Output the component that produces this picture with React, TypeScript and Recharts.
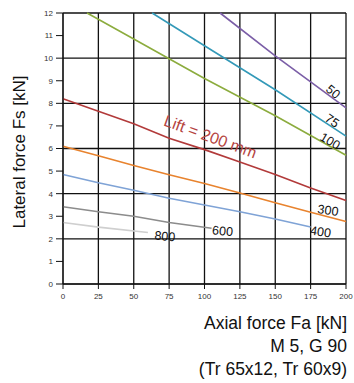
import React from "react";
import {
  LineChart,
  CartesianGrid,
  XAxis,
  YAxis,
  Line,
  LabelList
} from "recharts";

// axial force Fa [kN] / lateral force Fs [kN] per lift (mm)
const fa50 = [111, 150, 200];
const fs50 = [12, 10.1, 7.8];
const fa75 = [63, 100, 150, 200];
const fs75 = [12, 10.55, 8.6, 6.55];
const fa100 = [17, 50, 100, 150, 200];
const fs100 = [12, 10.85, 9.1, 7.45, 5.7];
const fa200 = [0, 25, 50, 75, 100, 125, 150, 175, 200];
const fs200 = [8.2, 7.65, 7.1, 6.45, 5.95, 5.4, 4.85, 4.25, 3.7];
const fa300 = [0, 25, 50, 75, 100, 125, 150, 175, 200];
const fs300 = [6.1, 5.68, 5.25, 4.84, 4.45, 4.03, 3.6, 3.18, 2.77];
const fa400 = [0, 25, 50, 75, 100, 125, 150, 175];
const fs400 = [4.85, 4.48, 4.15, 3.8, 3.5, 3.2, 2.88, 2.52];
const fa600 = [0, 25, 50, 75, 105];
const fs600 = [3.42, 3.2, 3.0, 2.72, 2.47];
const fa800 = [0, 25, 60];
const fs800 = [2.72, 2.52, 2.28];

const xTicks = [0, 25, 50, 75, 100, 125, 150, 175, 200];
const yTicks = [0, 1, 2, 3, 4, 5, 6, 7, 8, 9, 10, 11, 12];

const FONT = "'Liberation Sans', Arial, sans-serif";

const pts = (xs: number[], ys: number[]) => xs.map((x, i) => ({ x, y: ys[i] }));

const series = [
  { name: "50", data: pts(fa50, fs50), color: "#7b5ea7", text: "50", at: -1, dx: -13, dy: -16, angle: 40 },
  { name: "75", data: pts(fa75, fs75), color: "#3399b8", text: "75", at: -1, dx: -14, dy: -15, angle: 35 },
  { name: "100", data: pts(fa100, fs100), color: "#8cac3e", text: "100", at: -1, dx: -16, dy: -14, angle: 30 },
  { name: "200", data: pts(fa200, fs200), color: "#b23a3a", text: "Lift = 200 mm", at: 4, dx: 6, dy: -13, angle: 20, big: true },
  { name: "300", data: pts(fa300, fs300), color: "#e8832e", text: "300", at: -1, dx: -18, dy: -11, angle: 8 },
  { name: "400", data: pts(fa400, fs400), color: "#7fa3d6", text: "400", at: -1, dx: 10, dy: 5, angle: 8 },
  { name: "600", data: pts(fa600, fs600), color: "#8c8c8c", text: "600", at: -1, dx: 11, dy: 3, angle: 5 },
  { name: "800", data: pts(fa800, fs800), color: "#cfcfcf", text: "800", at: -1, dx: 17, dy: 4, angle: 5 }
];

const makeLabel = (s: any) => (props: any) => {
  const { x, y, index } = props;
  const target = s.at < 0 ? s.data.length - 1 : s.at;
  if (index !== target) return null;
  const lx = x + s.dx;
  const ly = y + s.dy;
  return (
    <text
      x={lx}
      y={ly}
      transform={`rotate(${s.angle} ${lx} ${ly})`}
      textAnchor="middle"
      dominantBaseline="central"
      fontFamily={FONT}
      fontSize={s.big ? 16 : 12.5}
      fill={s.big ? "#b5443f" : "#111"}
    >
      {s.text}
    </text>
  );
};

export default function App() {
  return (
    <div style={{ position: "absolute", left: 0, top: 0, width: 354, height: 383, background: "#fff" }}>
      <LineChart width={354} height={383} margin={{ top: 13, right: 8, left: 0, bottom: 79 }}>
        <CartesianGrid stroke="#111" strokeWidth={1.3} />
        <XAxis
          type="number"
          dataKey="x"
          domain={[0, 200]}
          ticks={xTicks}
          height={20}
          tickSize={5}
          tickMargin={4}
          axisLine={{ stroke: "#111" }}
          tickLine={{ stroke: "#111" }}
          tick={{ fontSize: 8, fill: "#333", fontFamily: FONT }}
          allowDuplicatedCategory={false}
        />
        <YAxis
          type="number"
          domain={[0, 12]}
          ticks={yTicks}
          width={63}
          tickSize={7}
          tickMargin={3}
          axisLine={{ stroke: "#111" }}
          tickLine={{ stroke: "#111" }}
          tick={{ fontSize: 8, fill: "#333", fontFamily: FONT }}
        />
        {series.map((s) => (
          <Line
            key={s.name}
            data={s.data}
            dataKey="y"
            type="linear"
            stroke={s.color}
            strokeWidth={1.6}
            dot={false}
            isAnimationActive={false}
          >
            <LabelList dataKey="y" content={makeLabel(s)} />
          </Line>
        ))}
      </LineChart>
      <div
        style={{
          position: "absolute",
          left: 20,
          top: 152,
          transform: "translate(-50%, -50%) rotate(-90deg)",
          whiteSpace: "nowrap",
          fontFamily: FONT,
          fontSize: 17,
          color: "#111"
        }}
      >
        Lateral force Fs [kN]
      </div>
      <div
        style={{
          position: "absolute",
          right: 7,
          top: 312,
          textAlign: "right",
          fontFamily: FONT,
          fontSize: 17.5,
          lineHeight: "23px",
          color: "#111"
        }}
      >
        <div>Axial force Fa [kN]</div>
        <div>M 5, G 90</div>
        <div>(Tr 65x12, Tr 60x9)</div>
      </div>
    </div>
  );
}
